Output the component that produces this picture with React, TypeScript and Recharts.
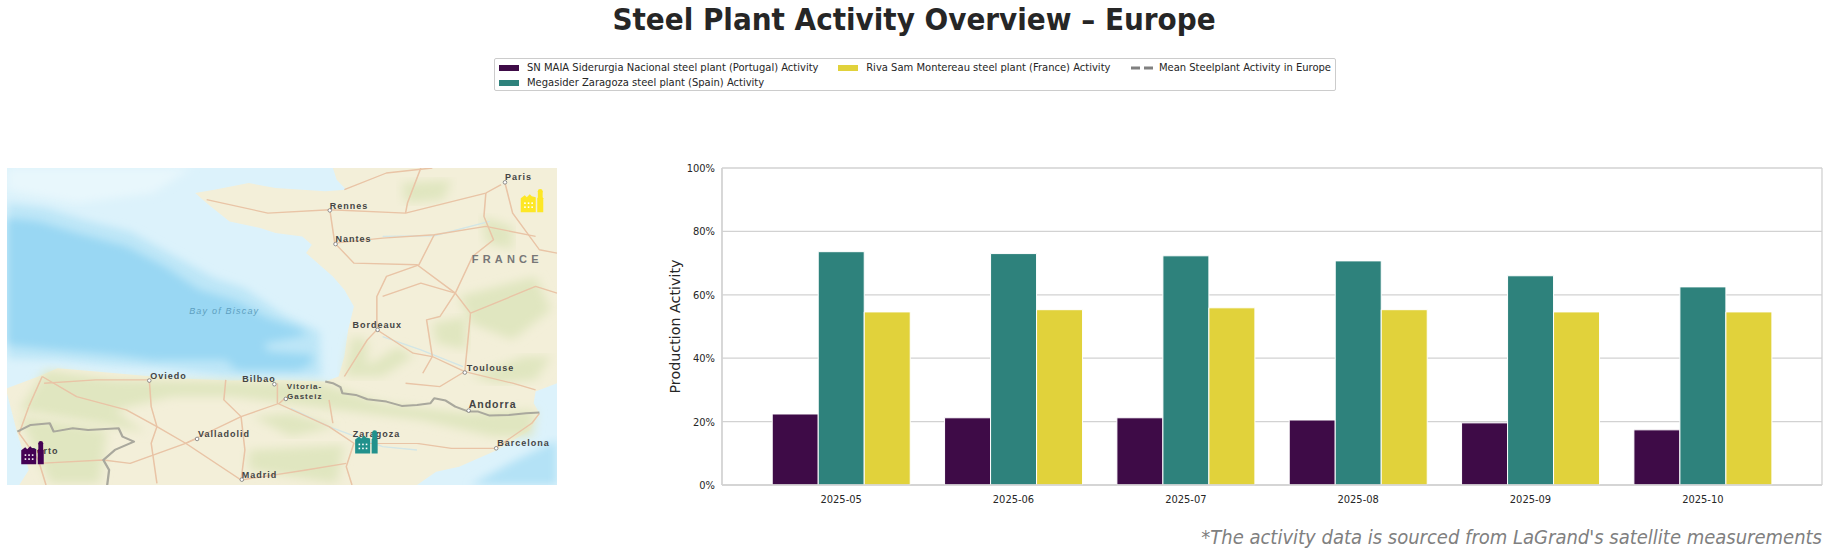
import React from 'react';
import { BarChart, Bar, ScatterChart, Scatter, XAxis, YAxis, CartesianGrid, Legend } from 'recharts';

const months = ['2025-05', '2025-06', '2025-07', '2025-08', '2025-09', '2025-10'];
const maiaActivity = [22.4, 21.2, 21.2, 20.5, 19.6, 17.4];
const zaragozaActivity = [73.6, 73.0, 72.3, 70.7, 66.0, 62.5];
const rivaActivity = [54.6, 55.3, 55.9, 55.3, 54.6, 54.6];
const yTicks = [0, 20, 40, 60, 80, 100];

const seriesNames = [
  'SN MAIA Siderurgia Nacional steel plant (Portugal) Activity',
  'Megasider Zaragoza steel plant (Spain) Activity',
  'Riva Sam Montereau steel plant (France) Activity',
];
const meanName = 'Mean Steelplant Activity in Europe';
const BAR_COLORS = ['#3E0B47', '#2E827C', '#E1D23B'];
const ICON_COLORS = ['#440154', '#21918C', '#FDE725'];

// map places, in the map's own picture units
const cityNames = ['Paris', 'Rennes', 'Nantes', 'Bordeaux', 'Toulouse', 'Oviedo', 'Bilbao', 'Vitoria-', 'Andorra', 'Barcelona', 'Valladolid', 'Madrid'];
const cityX = [1320, 862, 877, 987, 1215, 390, 717, 747, 1225, 1297, 515, 632];
const cityY = [98, 182, 283, 540, 668, 692, 703, 747, 782, 895, 867, 989];
const hiddenNames = ['Gasteiz', 'Zaragoza', 'Porto'];
const hiddenX = [750, 922, 78];
const hiddenY = [737, 853, 903];
const plantX = [84, 957, 1390];
const plantY = [907, 875, 152];

const cityData = cityNames.map((name, i) => ({ name, x: cityX[i], y: cityY[i] }));
const hiddenData = hiddenNames.map((name, i) => ({ name, x: hiddenX[i], y: hiddenY[i] }));
const plantData = plantX.map((x, i) => ({ x, y: plantY[i], color: ICON_COLORS[i] }));
const regionData = [{ name: 'Bay of Biscay', x: 586, y: 485 }, { name: 'FRANCE', x: 1326, y: 330 }];

const chartData = months.map((month, i) => ({
  month,
  maia: maiaActivity[i],
  zaragoza: zaragozaActivity[i],
  riva: rivaActivity[i],
}));

const LAND = 'M870,55 L880,90 L905,120 L850,125 L720,115 L650,100 L560,120 L510,130 L530,150 L550,170 L600,215 L680,235 L720,250 L790,260 L815,285 L800,310 L870,380 L900,420 L925,470 L910,540 L900,620 L885,680 L850,695 L720,690 L600,692 L450,685 L250,665 L150,655 L100,680 L18,715 L18,730 L45,850 L75,960 L50,1005 L1090,1005 L1140,965 L1200,950 L1300,900 L1385,840 L1410,790 L1395,760 L1400,725 L1456,700 L1456,55 Z';
const DEEP = 'M18,205 L100,215 L200,250 L330,290 L430,350 L520,420 L620,455 L700,505 L780,535 L805,555 L760,565 L690,580 L700,605 L815,615 L815,640 L780,660 L620,660 L590,630 L400,630 L300,615 L150,600 L18,585 Z';
const SHELF = 'M18,160 L120,175 L220,210 L340,245 L450,315 L560,385 L640,415 L740,495 L835,545 L840,680 L600,680 L430,655 L280,645 L150,630 L18,625 Z';
const TOP_LIGHT = 'M18,55 L500,55 L400,130 L200,160 L18,120 Z';
const MED = 'M1230,1005 L1340,935 L1456,870 L1456,1005 Z';
const GREENS = [
  'M120,660 L300,690 L600,695 L840,700 L1000,760 L1220,790 L1400,780 L1390,860 L1290,860 L1100,810 L880,780 L750,760 L600,740 L450,740 L300,780 L380,850 L300,830 L50,780 Z',
  'M1200,440 L1400,380 L1440,480 L1340,570 L1230,520 Z',
  'M920,560 L960,570 L960,650 L1040,590 L1080,620 L1000,680 L900,680 Z',
  'M1130,520 L1220,500 L1220,600 L1140,580 Z',
  'M1230,680 L1370,620 L1440,620 L1400,690 L1300,700 Z',
  'M1260,200 L1340,230 L1340,300 L1270,280 Z',
  'M50,800 L280,840 L260,1000 L130,1000 Z',
  'M660,800 L760,790 L880,830 L760,860 Z',
  'M650,900 L900,885 L880,1000 L650,960 Z',
  'M1050,100 L1180,90 L1160,150 L1060,160 Z',
];
const ROADS = [
  'M540,150 L700,190 L862,180 L1060,190 L1270,130 L1310,105',
  'M862,180 L875,280 L925,340 L1090,345 L1190,430',
  'M875,280 L1000,265 L1135,255 L1270,230 L1400,260',
  'M1135,255 L1095,345 L1010,380 L985,440 L985,540',
  'M1270,130 L1265,200 L1290,270 L1235,320 L1190,430 L1150,500 L1115,510 L1130,620 L1105,670',
  'M985,540 L1080,610 L1130,620 L1215,665',
  'M1215,665 L1150,710 L1060,700',
  'M1190,430 L1230,490 L1400,410 L1456,430',
  'M1215,665 L1340,700 L1400,720',
  'M1230,490 L1215,665',
  'M985,540 L960,570 L900,680',
  'M1100,55 L1065,160 L1060,190',
  'M900,120 L1010,70 L1130,55',
  'M1320,100 L1340,190 L1410,300 L1456,310',
  'M1000,440 L1100,400 L1190,430',
  'M390,690 L395,770 L410,830 L485,880 L515,865',
  'M485,880 L630,990',
  'M485,880 L630,800 L730,760 L745,745',
  'M725,700 L725,760 L860,830 L925,880 L905,950 L920,1005',
  'M940,880 L1090,880 L1180,895 L1295,895',
  'M1295,895 L1390,820 L1410,790',
  'M630,800 L640,900 L630,990',
  'M630,990 L800,960 L905,940',
  'M590,690 L585,750 L630,800',
  'M110,680 L200,740 L330,780 L410,830',
  'M75,770 L110,680',
  'M75,770 L50,850 L100,930 L120,1005',
  'M115,700 L250,690 L390,690',
  'M410,830 L395,880 L410,1000',
  'M100,940 L270,930 L340,940 L485,880',
  'M860,750 L870,820',
];
const BORDERS = [
  'M850,695 L870,700 L890,712 L895,730 L930,735 L960,748 L1010,755 L1050,768 L1090,765 L1125,760 L1135,745 L1165,752 L1190,770 L1225,785 L1250,785 L1280,797 L1330,795 L1375,790 L1410,788',
  'M45,845 L80,825 L130,820 L140,845 L190,835 L230,840 L310,835 L320,860 L350,875 L300,900 L270,930 L285,960 L280,1005',
];
const RIVERS = [
  'M1000,560 L1100,600 L1210,650',
  'M1000,260 L1135,258 L1280,215',
  'M760,775 L860,830 L1000,890 L1090,900',
];

const FONT = '"DejaVu Sans Condensed", "DejaVu Sans", sans-serif';

const MapBase = () => (
  <svg
    width={550}
    height={317}
    viewBox="18 55 1438 950"
    preserveAspectRatio="none"
    style={{ position: 'absolute', left: 7, top: 168 }}
  >
    <defs>
      <clipPath id="mapClip">
        <rect x={18} y={55} width={1438} height={950} />
      </clipPath>
      <filter id="sea" x="-10%" y="-10%" width="120%" height="120%">
        <feGaussianBlur stdDeviation="12" />
      </filter>
      <filter id="softer" x="-10%" y="-10%" width="120%" height="120%">
        <feGaussianBlur stdDeviation="14" />
      </filter>
      <filter id="line" x="-5%" y="-5%" width="110%" height="110%">
        <feGaussianBlur stdDeviation="1.2" />
      </filter>
    </defs>
    <g clipPath="url(#mapClip)">
      <rect x={18} y={55} width={1438} height={950} fill="#DCF2FB" />
      <path d={TOP_LIGHT} fill="#E8F7FC" filter="url(#sea)" />
      <path d={SHELF} fill="#BDE6F7" filter="url(#sea)" />
      <path d={DEEP} fill="#99D7F3" filter="url(#sea)" />
      <path d={MED} fill="#B4E2F6" filter="url(#sea)" />
      <path d={LAND} fill="#F3EFD9" filter="url(#line)" />
      {GREENS.map((d, i) => (
        <path key={i} d={d} fill="#E0E6C0" filter="url(#softer)" />
      ))}
      {RIVERS.map((d, i) => (
        <path key={i} d={d} fill="none" stroke="#D3E6E6" strokeWidth={4} filter="url(#line)" />
      ))}
      {ROADS.map((d, i) => (
        <path key={i} d={d} fill="none" stroke="#E9C4A6" strokeWidth={4} strokeLinejoin="round" filter="url(#line)" />
      ))}
      {BORDERS.map((d, i) => (
        <path key={i} d={d} fill="none" stroke="#A9A89D" strokeWidth={6} strokeLinejoin="round" filter="url(#line)" />
      ))}
    </g>
  </svg>
);

const labelOffsets: Record<string, [number, number]> = {
  Paris: [0, -5],
  Rennes: [0, -4.7],
  Nantes: [0, -5],
  Bordeaux: [-25, -5],
  Toulouse: [2, -4.7],
  Oviedo: [1, -4.3],
  Bilbao: [-32, -5],
  'Vitoria-': [1, -12.5],
  Andorra: [0, -5.3],
  Barcelona: [1, -5.3],
  Valladolid: [1, -4.7],
  Madrid: [0, -5],
};

const labelSize = (name: string) => {
  if (name === 'Andorra') return 10.5;
  if (name === 'Vitoria-' || name === 'Gasteiz') return 8;
  return 9;
};

const CityShape = (props: any) => {
  const { cx, cy, payload } = props;
  const [dx, dy] = labelOffsets[payload.name];
  return (
    <g>
      <circle cx={cx} cy={cy} r={1.8} fill="#fff" stroke="#777" strokeWidth={0.8} />
      <text x={cx + dx} y={cy + dy + 3} fontFamily="Liberation Sans" fontWeight="bold" fontSize={labelSize(payload.name)} letterSpacing={1} fill="#444">
        {payload.name}
      </text>
    </g>
  );
};

const PlainLabel = (props: any) => (
  <text x={props.cx} y={props.cy + 3} fontFamily="Liberation Sans" fontWeight="bold" fontSize={labelSize(props.payload.name)} letterSpacing={1} fill="#444">
    {props.payload.name}
  </text>
);

const RegionLabel = (props: any) => {
  const bay = props.payload.name === 'Bay of Biscay';
  return (
    <text
      x={props.cx}
      y={props.cy + 3}
      textAnchor="middle"
      fontFamily="Liberation Sans"
      fontStyle={bay ? 'italic' : 'normal'}
      fontWeight={bay ? 'normal' : 'bold'}
      fontSize={bay ? 9 : 11}
      letterSpacing={bay ? 1.2 : 4.2}
      fill={bay ? '#5E9FC0' : '#777'}
    >
      {props.payload.name}
    </text>
  );
};

const PlantIcon = (props: any) => {
  const { cx, cy, payload } = props;
  const x = cx - 11;
  const y = cy - 12;
  const windows = [];
  for (let row = 0; row < 2; row++) {
    for (let col = 0; col < 3; col++) {
      windows.push(<rect key={`${row}-${col}`} x={x + 3.4 + col * 3.6} y={y + 14 + row * 4} width={1.6} height={1.6} fill="#fff" />);
    }
  }
  const body = `M${x},${y + 24} V${y + 10} L${x + 4},${y + 7} L${x + 6},${y + 9} L${x + 9},${y + 6} L${x + 11},${y + 8} L${x + 15},${y + 9} V${y + 24} Z`;
  const stack = `M${x + 16.5},${y + 24} V${y + 10} L${x + 17.5},${y + 9} H${x + 21.5} L${x + 22.5},${y + 10} V${y + 24} Z`;
  return (
    <g>
      <path d={body} fill={payload.color} />
      <path d={stack} fill={payload.color} />
      <circle cx={x + 19.5} cy={y + 3} r={2.4} fill={payload.color} />
      <rect x={x + 17.1} y={y + 3} width={4.8} height={7} fill={payload.color} />
      {windows}
    </g>
  );
};

const MapPanel = () => (
  <>
    <MapBase />
    <div style={{ position: 'absolute', left: 7, top: 168 }}>
      <ScatterChart width={550} height={317} margin={{ top: 0, right: 0, bottom: 0, left: 0 }}>
        <XAxis type="number" dataKey="x" domain={[18, 1456]} hide />
        <YAxis type="number" dataKey="y" domain={[55, 1005]} reversed hide />
        <Scatter data={regionData} shape={RegionLabel} isAnimationActive={false} />
        <Scatter data={cityData} shape={CityShape} isAnimationActive={false} />
        <Scatter data={hiddenData} shape={PlainLabel} isAnimationActive={false} />
        <Scatter data={plantData} shape={PlantIcon} isAnimationActive={false} />
      </ScatterChart>
    </div>
  </>
);

const LegendRow = ({ color, dashed, text }: { color?: string; dashed?: boolean; text: string }) => (
  <div style={{ display: 'flex', alignItems: 'center', height: 15, whiteSpace: 'nowrap' }}>
    {dashed ? (
      <svg width={22} height={6} style={{ marginRight: 6, flex: 'none' }}>
        <line x1={0} x2={22} y1={3} y2={3} stroke="#808080" strokeWidth={2.8} strokeDasharray="9 4" />
      </svg>
    ) : (
      <span style={{ width: 20, height: 6, background: color, marginRight: 8, flex: 'none' }} />
    )}
    <span>{text}</span>
  </div>
);

const LegendBox = () => (
  <div
    style={{
      display: 'flex',
      boxSizing: 'border-box',
      width: 842,
      height: 33,
      padding: '1px 4px',
      border: '1px solid #ccc',
      borderRadius: 2,
      fontFamily: FONT,
      fontSize: 11.1,
      color: '#262626',
      background: '#fff',
    }}
  >
    <div style={{ width: 343 }}>
      <LegendRow color={BAR_COLORS[0]} text={seriesNames[0]} />
      <LegendRow color={BAR_COLORS[1]} text={seriesNames[1]} />
    </div>
    <div style={{ width: 296 }}>
      <LegendRow color={BAR_COLORS[2]} text={seriesNames[2]} />
    </div>
    <div>
      <LegendRow dashed text={meanName} />
    </div>
  </div>
);

export default function App() {
  return (
    <div style={{ position: 'absolute', left: 0, top: 0, width: 1828, height: 554, overflow: 'hidden', background: '#fff' }}>
      <div
        style={{
          position: 'absolute',
          left: 0,
          width: 1828,
          top: 1,
          textAlign: 'center',
          fontFamily: FONT,
          fontWeight: 'bold',
          fontSize: 31,
          lineHeight: '37px',
          color: '#262626',
        }}
      >
        Steel Plant Activity Overview – Europe
      </div>

      <MapPanel />

      <div style={{ position: 'absolute', left: 0, top: 0 }}>
        <BarChart
          width={1828}
          height={554}
          data={chartData}
          margin={{ top: 168, right: 6, bottom: 39, left: 642 }}
          barCategoryGap="10%"
          barGap={0}
        >
          <CartesianGrid
            stroke="#d2d2d2"
            strokeWidth={1.3}
            verticalCoordinatesGenerator={({ offset }: any) => [offset.left, offset.left + offset.width]}
          />
          <XAxis
            dataKey="month"
            padding={{ left: 33, right: 33 }}
            axisLine={{ stroke: '#d2d2d2', strokeWidth: 1.3 }}
            tickLine={false}
            tickMargin={4}
            tick={{ fontFamily: FONT, fontSize: 11, fill: '#262626' }}
          />
          <YAxis
            width={80}
            domain={[0, 100]}
            ticks={yTicks}
            tickFormatter={(v: number) => `${v}%`}
            axisLine={{ stroke: '#d2d2d2', strokeWidth: 1.3 }}
            tickLine={false}
            tickMargin={1}
            tick={{ fontFamily: FONT, fontSize: 11, fill: '#262626' }}
            label={{
              value: 'Production Activity',
              angle: -90,
              position: 'insideLeft',
              offset: 33,
              style: { textAnchor: 'middle', fontFamily: '"DejaVu Sans", sans-serif', fontSize: 14.3, fill: '#262626' },
            }}
          />
          <Legend
            layout="horizontal"
            align="center"
            verticalAlign="middle"
            content={<LegendBox />}
            wrapperStyle={{ position: 'absolute', left: 494, top: 58, width: 842, bottom: 'auto' }}
          />
          <Bar dataKey="maia" name={seriesNames[0]} fill={BAR_COLORS[0]} stroke="#fff" strokeWidth={1} isAnimationActive={false} />
          <Bar dataKey="zaragoza" name={seriesNames[1]} fill={BAR_COLORS[1]} stroke="#fff" strokeWidth={1} isAnimationActive={false} />
          <Bar dataKey="riva" name={seriesNames[2]} fill={BAR_COLORS[2]} stroke="#fff" strokeWidth={1} isAnimationActive={false} />
        </BarChart>
      </div>

      <div
        style={{
          position: 'absolute',
          right: 6,
          top: 524,
          fontFamily: FONT,
          fontStyle: 'italic',
          fontSize: 20,
          lineHeight: '26px',
          color: '#808080',
          whiteSpace: 'nowrap',
        }}
      >
        *The activity data is sourced from LaGrand's satellite measurements
      </div>
    </div>
  );
}
